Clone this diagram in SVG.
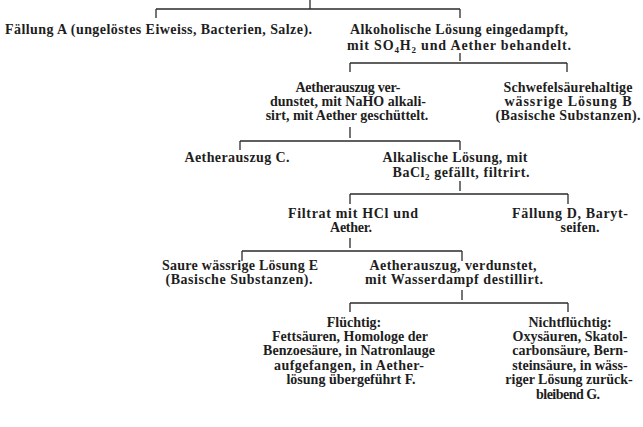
<svg xmlns="http://www.w3.org/2000/svg" width="643" height="427" viewBox="0 0 643 427">
<style>
text{font-family:"Liberation Serif","DejaVu Serif",serif;font-size:14px;font-weight:bold;fill:#1e1e1e;text-anchor:middle}
.l{text-anchor:start}
.c line{stroke:#2a2a2a;stroke-width:1.3}
.sub{font-size:9px}
</style>
<rect width="643" height="427" fill="#fff"/>
<g class="c" id="connectors">
<line x1="310" y1="0" x2="310" y2="9"/>
<line x1="156" y1="9" x2="460" y2="9"/>
<line x1="156" y1="9" x2="156" y2="18"/>
<line x1="460" y1="9" x2="460" y2="18"/>
<line x1="460" y1="53" x2="460" y2="61"/>
<line x1="350" y1="63" x2="567" y2="63"/>
<line x1="350" y1="63" x2="350" y2="72"/>
<line x1="567" y1="63" x2="567" y2="72"/>
<line x1="350" y1="127" x2="350" y2="138"/>
<line x1="240" y1="141" x2="460" y2="141"/>
<line x1="240" y1="141" x2="240" y2="150"/>
<line x1="460" y1="141" x2="460" y2="150"/>
<line x1="460" y1="181" x2="460" y2="191"/>
<line x1="350" y1="194" x2="568" y2="194"/>
<line x1="350" y1="194" x2="350" y2="204"/>
<line x1="568" y1="194" x2="568" y2="204"/>
<line x1="350" y1="238" x2="350" y2="248"/>
<line x1="242" y1="251" x2="462" y2="251"/>
<line x1="242" y1="251" x2="242" y2="261"/>
<line x1="462" y1="251" x2="462" y2="261"/>
<line x1="462" y1="290" x2="462" y2="300"/>
<line x1="350" y1="303" x2="568" y2="303"/>
<line x1="350" y1="303" x2="350" y2="312"/>
<line x1="568" y1="303" x2="568" y2="312"/>
</g>
<g id="A"><text class="l" x="5" y="34" textLength="307">Fällung A (ungelöstes Eiweiss, Bacterien, Salze).</text></g>
<g id="alk">
<text x="459" y="34" textLength="218">Alkoholische Lösung eingedampft,</text>
<text x="459" y="50" textLength="224">mit SO<tspan class="sub" dy="3">4</tspan><tspan dy="-3">H</tspan><tspan class="sub" dy="3">2</tspan><tspan dy="-3"> und Aether behandelt.</tspan></text>
</g>
<g id="aeth1">
<text x="348" y="92" textLength="105">Aetherauszug ver-</text>
<text x="348" y="106" textLength="156">dunstet, mit NaHO alkali-</text>
<text x="347" y="120">sirt, mit Aether geschüttelt.</text>
</g>
<g id="B">
<text x="568" y="92" textLength="129">Schwefelsäurehaltige</text>
<text x="568" y="106" textLength="127">wässrige Lösung B</text>
<text x="568" y="120" textLength="145">(Basische Substanzen).</text>
</g>
<g id="C"><text x="237" y="162" textLength="105">Aetherauszug C.</text></g>
<g id="alkal">
<text x="455" y="162" textLength="145">Alkalische Lösung, mit</text>
<text x="461" y="177" textLength="137">BaCl<tspan class="sub" dy="3">2</tspan><tspan dy="-3"> gefällt, filtrirt.</tspan></text>
</g>
<g id="filtrat">
<text x="353" y="218" textLength="130">Filtrat mit HCl und</text>
<text x="351" y="232" textLength="42">Aether.</text>
</g>
<g id="D">
<text x="570" y="218" textLength="116">Fällung D, Baryt-</text>
<text x="580" y="232" textLength="39">seifen.</text>
</g>
<g id="E">
<text x="240" y="270" textLength="156">Saure wässrige Lösung E</text>
<text x="239" y="284" textLength="147">(Basische Substanzen).</text>
</g>
<g id="aeth2">
<text x="453" y="270" textLength="167">Aetherauszug, verdunstet,</text>
<text x="454" y="284" textLength="178">mit Wasserdampf destillirt.</text>
</g>
<g id="F">
<text x="354" y="327">Flüchtig:</text>
<text x="350" y="341" textLength="156">Fettsäuren, Homologe der</text>
<text x="349" y="355">Benzoesäure, in Natronlauge</text>
<text x="349" y="370" textLength="150">aufgefangen, in Aether-</text>
<text x="351" y="384">lösung übergeführt F.</text>
</g>
<g id="G">
<text x="570" y="327">Nichtflüchtig:</text>
<text x="570" y="341" textLength="115">Oxysäuren, Skatol-</text>
<text x="570" y="355">carbonsäure, Bern-</text>
<text x="570" y="370">steinsäure, in wäss-</text>
<text x="569" y="384">riger Lösung zurück-</text>
<text x="568" y="399" textLength="64">bleibend G.</text>
</g>
</svg>
